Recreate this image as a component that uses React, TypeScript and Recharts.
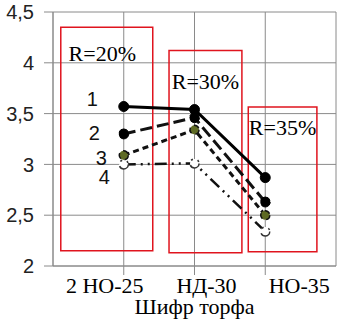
import React from 'react';
import { LineChart, Line, XAxis, YAxis, CartesianGrid, ReferenceArea, Label } from 'recharts';

const categories = ['2 НО-25', 'НД-30', 'НО-35'];
const categoryPos = [1, 2, 3];
const series1 = [3.57, 3.54, 2.87];
const series2 = [3.3, 3.46, 2.63];
const series3 = [3.09, 3.34, 2.5];
const series4 = [3.0, 3.01, 2.34];
const yTicks = [2, 2.5, 3, 3.5, 4, 4.5];
const seriesNames = ['1', '2', '3', '4'];

const zones = [
  { x1: 0.11, x2: 1.41, y1: 2.15, y2: 4.35, text: 'R=20%' },
  { x1: 1.64, x2: 2.67, y1: 2.13, y2: 4.12, text: 'R=30%' },
  { x1: 2.76, x2: 3.73, y1: 2.14, y2: 3.565, text: 'R=35%' },
];

// style-only offsets
const tickDx = [-19, 12, 34];
const zoneTextOffset = [
  { dx: -4.5, dy: 34 },
  { dx: 0, dy: 38 },
  { dx: 0, dy: 28 },
];
const nameOffset = [
  { dx: -26, dy: 0 },
  { dx: -24, dy: 6 },
  { dx: -17, dy: 10 },
  { dx: -14, dy: 20 },
];

const data = categoryPos.map((x, i) => ({
  x,
  s1: series1[i],
  s2: series2[i],
  s3: series3[i],
  s4: series4[i],
}));

const GRID = '#8a8a8a';
const SERIF = "'Liberation Serif', 'Times New Roman', Times, serif";
const SANS = "'Liberation Sans', Arial, sans-serif";

const XTick = (props: any) => {
  const { x, y, payload } = props;
  const idx = categoryPos.indexOf(payload.value);
  if (idx < 0) return null;
  return (
    <text x={x + tickDx[idx]} y={y} dy="0.71em" textAnchor="middle" style={{ fontFamily: SERIF, fontSize: 22 }} fill="#000">
      {categories[idx]}
    </text>
  );
};

const YTick = (props: any) => {
  const { x, y, payload } = props;
  return (
    <text x={x} y={y} dy="0.355em" textAnchor="end" style={{ fontFamily: SANS, fontSize: 20 }} fill="#222">
      {String(payload.value).replace('.', ',')}
    </text>
  );
};

const makeNameLabel = (si: number) => (p: any) => {
  if (p.index !== 0) return null;
  return (
    <text
      key={`nl${si}`}
      x={p.x + nameOffset[si].dx}
      y={p.y + nameOffset[si].dy}
      textAnchor="end"
      style={{ fontFamily: SANS, fontSize: 20 }}
      fill="#111"
    >
      {seriesNames[si]}
    </text>
  );
};

const makeZoneLabel = (zi: number) => (p: any) => {
  const vb = p.viewBox || {};
  return (
    <text
      x={vb.x + vb.width / 2 + zoneTextOffset[zi].dx}
      y={vb.y + zoneTextOffset[zi].dy}
      textAnchor="middle"
      style={{ fontFamily: SERIF, fontSize: 22 }}
      fill="#000"
    >
      {zones[zi].text}
    </text>
  );
};

const axisTitle = (p: any) => {
  const vb = p.viewBox || {};
  return (
    <text x={vb.x + vb.width / 2} y={vb.y + 48} textAnchor="middle" style={{ fontFamily: SERIF, fontSize: 22 }} fill="#000">
      Шифр торфа
    </text>
  );
};

export default function App() {
  return (
    <div style={{ position: 'absolute', left: 0, top: 0, background: '#fff' }}>
      <LineChart width={337} height={323} data={data} margin={{ top: 12, right: 1, bottom: 0, left: 0 }}>
        <CartesianGrid stroke={GRID} strokeWidth={1} verticalValues={[0, 1, 2, 3, 4]} />
        <XAxis
          dataKey="x"
          type="number"
          domain={[0, 4]}
          ticks={categoryPos}
          height={57}
          tickSize={9}
          tickMargin={2}
          stroke={GRID}
          tickLine={{ stroke: GRID }}
          axisLine={{ stroke: GRID }}
          tick={<XTick />}
          interval={0}
        >
          <Label content={axisTitle} />
        </XAxis>
        <YAxis
          type="number"
          domain={[2, 4.5]}
          ticks={yTicks}
          width={53}
          tickSize={9}
          tickMargin={10}
          stroke={GRID}
          tickLine={{ stroke: GRID }}
          axisLine={{ stroke: GRID }}
          tick={<YTick />}
          interval={0}
        />
        {zones.map((z, i) => (
          <ReferenceArea
            key={i}
            x1={z.x1}
            x2={z.x2}
            y1={z.y1}
            y2={z.y2}
            fill="none"
            fillOpacity={0}
            stroke="#e0141e"
            strokeWidth={1.5}
            ifOverflow="visible"
            label={makeZoneLabel(i)}
          />
        ))}
        <Line
          dataKey="s4"
          stroke="#111"
          strokeWidth={2.5}
          strokeDasharray="12 5 2 5 2 5"
          isAnimationActive={false}
          dot={{ r: 4.5, fill: '#fff', stroke: '#333', strokeWidth: 1.5 }}
          label={makeNameLabel(3)}
        />
        <Line
          dataKey="s3"
          stroke="#111"
          strokeWidth={3}
          strokeDasharray="6 4"
          isAnimationActive={false}
          dot={{ r: 4.5, fill: '#5e6a24', stroke: '#111', strokeWidth: 1.5 }}
          label={makeNameLabel(2)}
        />
        <Line
          dataKey="s2"
          stroke="#111"
          strokeWidth={3}
          strokeDasharray="12 5"
          isAnimationActive={false}
          dot={{ r: 5, fill: '#000', stroke: '#000', strokeWidth: 1 }}
          label={makeNameLabel(1)}
        />
        <Line
          dataKey="s1"
          stroke="#000"
          strokeWidth={3}
          isAnimationActive={false}
          dot={{ r: 5, fill: '#000', stroke: '#000', strokeWidth: 1 }}
          label={makeNameLabel(0)}
        />
      </LineChart>
    </div>
  );
}
